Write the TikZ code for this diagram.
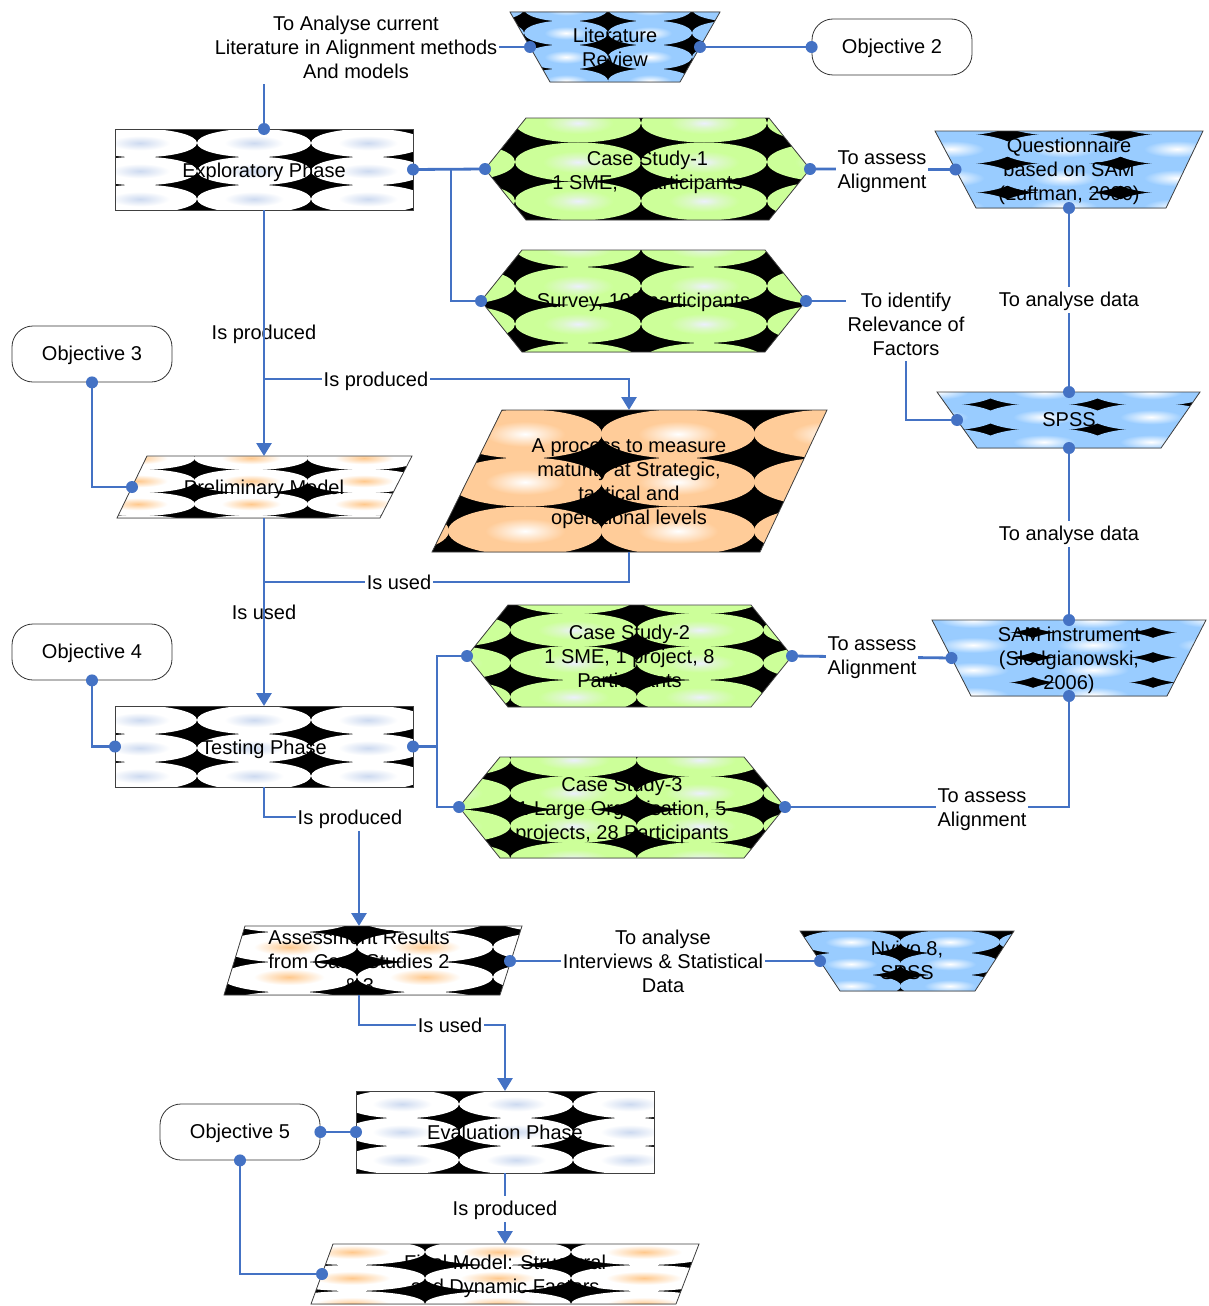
\documentclass[tikz,border=0pt]{standalone}
\usepackage{fontspec}
\setmainfont{Liberation Sans}
\usetikzlibrary{arrows.meta}
\definecolor{cblue}{RGB}{68,114,196}
\definecolor{lgreen}{RGB}{204,255,153}
\definecolor{gcen}{RGB}{236,240,252}
\definecolor{gmid}{RGB}{220,248,200}
\definecolor{lblue}{RGB}{153,204,255}
\definecolor{lorange}{RGB}{255,204,153}
\definecolor{wbcen}{RGB}{205,218,240}
\definecolor{wocen}{RGB}{255,200,140}
\pgfdeclareradialshading{shGreen}{\pgfpoint{0bp}{0bp}}{color(0bp)=(gcen); color(6bp)=(gmid); color(14bp)=(lgreen); color(50bp)=(lgreen)}
\pgfdeclareradialshading{shBlue}{\pgfpoint{0bp}{0bp}}{color(0bp)=(white); color(13bp)=(lblue); color(50bp)=(lblue)}
\pgfdeclareradialshading{shOrange}{\pgfpoint{0bp}{0bp}}{color(0bp)=(white); color(13bp)=(lorange); color(50bp)=(lorange)}
\pgfdeclareradialshading{shWB}{\pgfpoint{0bp}{0bp}}{color(0bp)=(wbcen); color(13bp)=(white); color(50bp)=(white)}
\pgfdeclareradialshading{shWO}{\pgfpoint{0bp}{0bp}}{color(0bp)=(wocen); color(13bp)=(white); color(50bp)=(white)}
% #1 polygon path, #2 x centres, #3 y centres, #4 x radius, #5 y radius, #6 shading
\newcommand\patfill[6]{%
  \begin{scope}
    \clip #1;
    \fill[black] #1;
    \foreach \cx in {#2}{\foreach \cy in {#3}{%
      \shade[shading=#6] (\cx,\cy) ellipse [x radius=#4pt, y radius=#5pt];}}
  \end{scope}
  \draw[edge] #1;}
\tikzset{
  edge/.style={draw=black!75, line width=0.8pt},
  txt/.style={align=center, inner sep=0pt, font=\fontsize{20}{24}\selectfont,
    execute at begin node={\rule{0pt}{18.1pt}},
    execute at end node={\rule[-4.2pt]{0pt}{4.2pt}}},
  tx/.style={txt, yshift=-1pt},
  mtx/.style={txt, yshift=-3pt},
  boxanchor/.style={inner sep=0pt, outer sep=0pt},
  lbl/.style={txt, fill=white, inner sep=2pt, yshift=-1pt},
  mlbl/.style={txt, fill=white, inner sep=2pt, yshift=-3pt},
  lblclear/.style={txt, inner sep=2pt, yshift=-1pt},
  objbox/.style={txt, draw=black!80, line width=0.8pt, fill=white, rounded corners=21pt, minimum width=160pt, minimum height=56pt},
  conn/.style={draw=cblue, line width=2.8pt},
  arr/.style={conn, -{Triangle[length=13pt,width=15pt]}},
  blob/.style={fill=cblue}
}
\newcommand\blobat[1]{\fill[blob] (#1) circle (6pt);}
\begin{document}
\begin{tikzpicture}[x=1pt,y=-1pt]
\useasboundingbox (0,0) rectangle (1209,1306);

% ---------- shapes ----------
\patfill{(510,12) -- (720,12) -- (680,82) -- (550,82) -- cycle}{482,566,650,734}{9,33,57,81}{42}{12.5}{shBlue}
\patfill{(115,129) -- (413,129) -- (413,210) -- (115,210) -- cycle}{140,254,368}{143,171,199}{57}{14.3}{shWB}
\patfill{(485,169) -- (526,118) -- (769,118) -- (810,169) -- (769,220) -- (526,220) -- cycle}{452,578,704,830}{123,162,201,240}{63}{19.5}{shGreen}
\patfill{(481,301) -- (522,250) -- (765,250) -- (806,301) -- (765,352) -- (522,352) -- cycle}{452,578,704,830}{248,286,324,362}{63}{19}{shGreen}
\patfill{(935,131) -- (1203,131) -- (1166,208) -- (976,208) -- cycle}{951,1064,1177}{120,149,178,207}{64}{16}{shBlue}
\patfill{(937,392) -- (1200,392) -- (1161,448) -- (977,448) -- cycle}{937,1044,1151,1258}{392,417,442}{60}{14}{shBlue}
\patfill{(502,410) -- (827,410) -- (760,552) -- (432,552) -- cycle}{372,525,678,831}{434,482,531,579}{77}{24.5}{shOrange}
\patfill{(147,456) -- (412,456) -- (380,518) -- (117,518) -- cycle}{25,138,251,364,477}{458,481,504,527}{57}{12}{shWO}
\patfill{(932,620) -- (1206,620) -- (1167,696) -- (971,696) -- cycle}{853,973,1093,1213}{620,645,670,695}{68}{15}{shBlue}
\patfill{(467,656) -- (508,605) -- (751,605) -- (792,656) -- (751,707) -- (508,707) -- cycle}{447,573.5,700,826.5}{597,630,663,697,730}{63.5}{17}{shGreen}
\patfill{(115,706) -- (413,706) -- (413,787) -- (115,787) -- cycle}{140,254,368}{720,748,776}{57}{14.3}{shWB}
\patfill{(459,807) -- (500,757) -- (744,757) -- (785,807) -- (744,858) -- (500,858) -- cycle}{447,573.5,700,826.5}{760,793,826,859}{63.5}{17}{shGreen}
\patfill{(245,926) -- (522,926) -- (500,995) -- (224,995) -- cycle}{153,289,425,561}{917,947,977,1007}{68}{15.5}{shWO}
\patfill{(800,931) -- (1014,931) -- (975,991) -- (840,991) -- cycle}{752,851,950,1049}{920,942,964,986,1008}{50}{12}{shBlue}
\patfill{(356,1091) -- (654,1091) -- (654,1173) -- (356,1173) -- cycle}{402,516,630}{1104,1132,1160}{57}{14.3}{shWB}
\patfill{(333,1244) -- (699,1244) -- (676,1304) -- (311,1304) -- cycle}{206,352,498,644,790}{1252,1278,1304}{73}{13}{shWO}

% ---------- anchor boxes ----------
\node[boxanchor, minimum width=298pt, minimum height=81pt] (expl) at (264,169.5) {};
\node[boxanchor, minimum width=325pt, minimum height=102pt] (cs1) at (647.5,169) {};
\node[boxanchor, minimum width=325pt, minimum height=102pt] (survey) at (643.5,301) {};
\node[boxanchor, minimum width=298pt, minimum height=81pt] (test) at (264,746.5) {};
\node[boxanchor, minimum width=325pt, minimum height=102pt] (cs2) at (629.5,656) {};
\node[boxanchor, minimum width=326pt, minimum height=101pt] (cs3) at (622,807) {};
\node[boxanchor, minimum width=298pt, minimum height=82pt] (eval) at (505,1132) {};

% ---------- text nodes ----------
\node[mtx] (lit) at (615,46) {Literature\\Review};
\node[objbox] (obj2) at (892,47) {Objective 2};
\node[tx] (explT) at (264,169.5) {Exploratory Phase};
\node[mtx] (cs1T) at (647.5,169) {Case Study-1\\1 SME, 4 participants};
\node[tx] (surveyT) at (643.5,300) {Survey, 100 participants};
\node[mtx] (quest) at (1069,168.5) {Questionnaire\\based on SAM\\(Luftman, 2000)};
\node[tx] (spss) at (1069,419) {SPSS};
\node[objbox] (obj3) at (92,354) {Objective 3};
\node[tx] (prelim) at (264,487) {Preliminary Model};
\node[mtx] (proc) at (629,480.5) {A process to measure\\maturity at Strategic,\\tactical and\\operational levels};
\node[objbox] (obj4) at (92,652) {Objective 4};
\node[tx] (testT) at (264,746.5) {Testing Phase};
\node[mtx] (cs2T) at (629.5,655) {Case Study-2\\1 SME, 1 project, 8\\Participants};
\node[mtx] (sam) at (1069,657) {SAM instrument\\(Sledgianowski,\\2006)};
\node[mtx] (cs3T) at (622,807) {Case Study-3\\1 Large Organisation, 5\\projects, 28 Participants};
\node[mtx] (assess) at (359,960) {Assessment Results\\from Case Studies 2\\\& 3};
\node[mtx] (nvivo) at (907,959) {Nvivo 8,\\SPSS};
\node[tx] (evalT) at (505,1132) {Evaluation Phase};
\node[objbox] (obj5) at (240,1132) {Objective 5};
\node[mtx] (final) at (505,1273.5) {Final Model: Structural\\and Dynamic Factors};

% ---------- connection points ----------
\coordinate (litW) at (530,47);
\coordinate (litE) at (700,47);
\coordinate (questW) at (955.5,169.5);
\coordinate (questS) at (1069,208);
\coordinate (spssN) at (1069,392);
\coordinate (spssS) at (1069,448);
\coordinate (spssW) at (957,420);
\coordinate (samN) at (1069,620);
\coordinate (samS) at (1069,696);
\coordinate (samW) at (951.5,658);
\coordinate (prelimN) at (264,456);
\coordinate (prelimS) at (264,518);
\coordinate (prelimW) at (132,487);
\coordinate (procN) at (629,410);
\coordinate (procS) at (629,552);
\coordinate (assessN) at (359,926);
\coordinate (assessS) at (359,995);
\coordinate (assessE) at (510,961);
\coordinate (nvivoW) at (820,961);
\coordinate (finalN) at (505,1244);
\coordinate (finalW) at (322,1274);
\coordinate (j1) at (264,379);
\coordinate (j2) at (264,582);
\coordinate (j3) at (451,169.5);
\coordinate (j4) at (437,746.5);

% ---------- connectors ----------
\draw[conn] (litW) -| (expl.north);
\draw[conn] (litE) -- (obj2.west);
\draw[conn] (expl.east) -- (cs1.west);
\draw[conn] (j3) |- (survey.west);
\draw[conn] (cs1.east) -- (questW);
\draw[conn] (survey.east) -- (906,301) -- (906,420) -- (spssW);
\draw[conn] (questS) -- (spssN);
\draw[conn] (spssS) -- (samN);
\draw[arr] (expl.south) -- (prelimN);
\draw[arr] (j1) -| (procN);
\draw[conn] (obj3.south) |- (prelimW);
\draw[arr] (prelimS) -- (test.north);
\draw[conn] (procS) |- (j2);
\draw[conn] (obj4.south) |- (test.west);
\draw[conn] (test.east) -- (j4) |- (cs2.west);
\draw[conn] (j4) |- (cs3.west);
\draw[conn] (cs2.east) -- (samW);
\draw[conn] (cs3.east) -| (samS);
\draw[arr] (test.south) |- (359,817) -- (assessN);
\draw[conn] (assessE) -- (nvivoW);
\draw[arr] (assessS) |- (505,1025) -- (eval.north);
\draw[conn] (obj5.east) -- (eval.west);
\draw[conn] (obj5.south) |- (finalW);
\draw[arr] (eval.south) -- (finalN);

% ---------- connector labels ----------
\node[mlbl] (l1) at (356,46) {To Analyse current\\Literature in Alignment methods\\And models};
\node[mlbl] (l2) at (882,169) {To assess\\Alignment};
\node[mlbl] (l3) at (906,323) {To identify\\Relevance of\\Factors};
\node[lbl] (l4) at (1069,299) {To analyse data};
\node[lbl] (l5) at (1069,533) {To analyse data};
\node[lblclear] (l6) at (264,332) {Is produced};
\node[lbl] (l7) at (376,379) {Is produced};
\node[lbl] (l8) at (399,582) {Is used};
\node[lblclear] (l9) at (264,612) {Is used};
\node[mlbl] (l10) at (872,655) {To assess\\Alignment};
\node[mlbl] (l11) at (982,806.5) {To assess\\Alignment};
\node[lbl] (l12) at (350,817) {Is produced};
\node[mlbl] (l13) at (663,960) {To analyse\\Interviews \& Statistical\\Data};
\node[lbl] (l14) at (450,1025) {Is used};
\node[lbl] (l15) at (505,1208) {Is produced};
\draw[conn] (264,318) -- (264,346);
\draw[conn] (264,598) -- (264,626);

% ---------- dots ----------
\blobat{litW}\blobat{litE}\blobat{obj2.west}
\blobat{expl.north}\blobat{expl.east}\blobat{cs1.west}\blobat{survey.west}
\blobat{cs1.east}\blobat{questW}\blobat{questS}
\blobat{survey.east}\blobat{spssW}\blobat{spssN}\blobat{spssS}
\blobat{samN}\blobat{samW}\blobat{samS}
\blobat{obj3.south}\blobat{prelimW}
\blobat{obj4.south}\blobat{test.west}\blobat{test.east}
\blobat{cs2.west}\blobat{cs3.west}\blobat{cs2.east}\blobat{cs3.east}
\blobat{assessE}\blobat{nvivoW}
\blobat{obj5.east}\blobat{eval.west}\blobat{obj5.south}\blobat{finalW}
\end{tikzpicture}
\end{document}
